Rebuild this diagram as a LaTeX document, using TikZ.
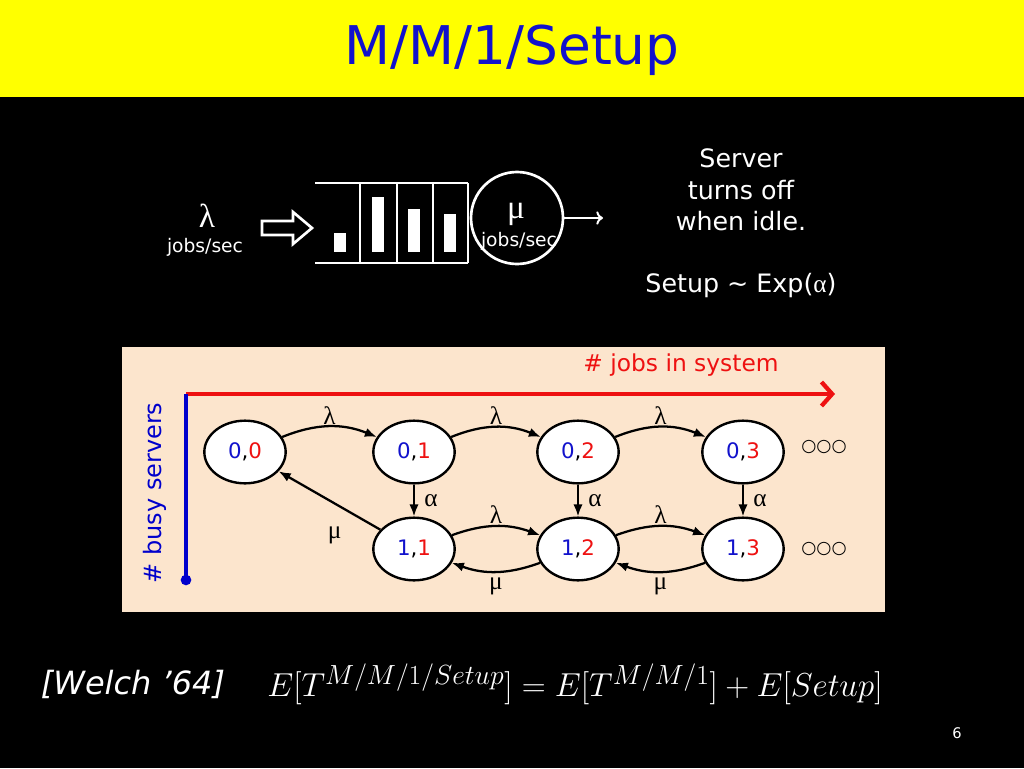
\documentclass[tikz,border=0pt]{standalone}
\usepackage{fontspec}
\setmainfont{DejaVu Sans}
\newfontfamily\greekfont{Liberation Serif}
\usepackage{tikz}
\definecolor{slideYellow}{HTML}{FFFF00}
\definecolor{slideBlue}{HTML}{1212CC}
\definecolor{chainPeach}{HTML}{FCE5CD}
\definecolor{chainRed}{HTML}{EE1111}
\usetikzlibrary{shapes.geometric}
\usetikzlibrary{arrows}
\usetikzlibrary{arrows.meta}

\newcommand{\pair}[2]{\textcolor{slideBlue}{#1},\textcolor{chainRed}{#2}}

\begin{document}
\begin{tikzpicture}[x=0.75pt, y=-0.75pt,
  state/.style={draw=black, line width=1.8pt, fill=white, ellipse, minimum width=61pt, minimum height=47pt, inner sep=0pt, font=\fontsize{16}{18}\selectfont},
  edge/.style={draw=black, line width=1.7pt, -{Latex[length=9pt, width=7pt]}},
  rate/.style={font=\greekfont\fontsize{19}{20}\selectfont, inner sep=1pt},
  wline/.style={draw=white, line width=2pt}]
  \useasboundingbox (0,0) rectangle (1024,768);
  \fill[black] (0,0) rectangle (1024,768);
  \fill[slideYellow] (0,0) rectangle (1024,97);
  \node[text=slideBlue, font=\fontsize{40}{44}\selectfont] (title) at (512,50) {M/M/1/Setup};

  % queue
  \node[text=white, font=\greekfont\fontsize{25}{26}\selectfont] (lam) at (207,216) {λ};
  \node[text=white, font=\fontsize{14}{16}\selectfont] (lamsec) at (205,247) {jobs/sec};
  \draw[wline] (262,221) -- (293,221) -- (293,212) -- (312,228) -- (293,244) -- (293,235) -- (262,235) -- cycle;
  \draw[wline] (315,183) -- (468,183);
  \draw[wline] (315,263) -- (468,263);
  \foreach \x in {360,397,433,468}
    \draw[wline] (\x,183) -- (\x,263);
  \foreach \x/\t in {340/233, 378/197, 414/209, 450/214}
    \fill[white] (\x-6,\t) rectangle (\x+6,252);
  \node[circle, wline, minimum size=69pt, inner sep=0pt] (srv) at (517,218) {};
  \node[text=white, font=\greekfont\fontsize{25}{26}\selectfont] (mu) at (516,214) {μ};
  \node[text=white, font=\fontsize{14}{16}\selectfont] (musec) at (519,241) {jobs/sec};
  \coordinate (out) at (603,218);
  \draw[white, line width=1.5pt, -{To[length=5pt, width=10pt]}] (srv.east) -- (out);

  \node[text=white, align=center, font=\fontsize{19}{23.5}\selectfont] (idle) at (741,190) {Server\\turns off\\when idle.};
  \node[text=white, font=\fontsize{19}{22}\selectfont] (setup) at (741,286) {Setup \textasciitilde{} Exp({\greekfont α})};

  % chain
  \fill[chainPeach] (122,347) rectangle (885,612);
  \coordinate (origin) at (186,394);
  \coordinate (xend) at (835,394);
  \coordinate (yend) at (186,580);
  \draw[chainRed, line width=3.2pt, -{Straight Barb[length=8pt, width=18pt]}] (origin) -- (xend);
  \draw[blue!80!black, line width=3pt] (origin) -- (yend);
  \fill[blue!80!black] (yend) circle[radius=4pt];
  \node[text=chainRed, font=\fontsize{17.5}{20}\selectfont] (xlab) at (681,365) {\# jobs in system};
  \node[text=blue!80!black, rotate=90, font=\fontsize{18}{20}\selectfont] (ylab) at (155,493) {\# busy servers};

  \node[state] (s00) at (245,452) {\pair00};
  \node[state] (s01) at (414,452) {\pair01};
  \node[state] (s02) at (578,452) {\pair02};
  \node[state] (s03) at (743,452) {\pair03};
  \node[state] (s11) at (414,549) {\pair11};
  \node[state] (s12) at (578,549) {\pair12};
  \node[state] (s13) at (743,549) {\pair13};
  \node[font=\fontsize{13}{14}\selectfont] (dots0) at (824,447) {○○○};
  \node[font=\fontsize{13}{14}\selectfont] (dots1) at (824,549) {○○○};

  \draw[edge] (s00) to[bend left=22] node[rate, above] {λ} (s01);
  \draw[edge] (s01) to[bend left=22] node[rate, above] {λ} (s02);
  \draw[edge] (s02) to[bend left=22] node[rate, above] {λ} (s03);
  \draw[edge] (s01) -- node[rate, right=6pt] {α} (s11);
  \draw[edge] (s02) -- node[rate, right=6pt] {α} (s12);
  \draw[edge] (s03) -- node[rate, right=6pt] {α} (s13);
  \draw[edge] (s11) to[bend left=20] node[rate, above] {λ} (s12);
  \draw[edge] (s12) to[bend left=20] node[rate, above] {λ} (s13);
  \draw[edge] (s12) to[bend left=20] node[rate, below=3pt] {μ} (s11);
  \draw[edge] (s13) to[bend left=20] node[rate, below=3pt] {μ} (s12);
  \draw[edge] (s11) -- node[rate, pos=0.45, below=16pt] {μ} (s00);

  % result
  \node[text=white, font=\fontsize{24}{26}\itshape] (welch) at (133,684) {[Welch ’64]};
  \node[text=white, font=\fontsize{29}{32}\selectfont] (eq) at (575,684) {$E[T^{M/M/1/Setup}] = E[T^{M/M/1}] + E[Setup]$};
  \node[text=white, font=\fontsize{11}{12}\selectfont] (page) at (957,733) {6};
\end{tikzpicture}
\end{document}
